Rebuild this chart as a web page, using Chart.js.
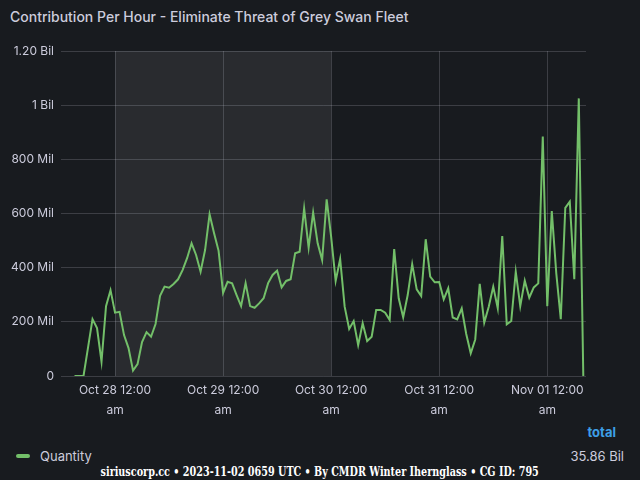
<!DOCTYPE html>
<html>
<head>
<meta charset="utf-8">
<script src="https://cdn.jsdelivr.net/npm/chart.js@4"></script>
<style>
  html, body { margin: 0; padding: 0; background: #181b1f; }
  body { width: 640px; height: 480px; position: relative; overflow: hidden; font-family: Inter, "Noto Sans", sans-serif; color: #ccccdc; }
  #title { position: absolute; left: 10px; top: 8px; font-size: 14px; font-weight: 500; white-space: nowrap; }
  #wrap { position: absolute; left: 0; top: 0; width: 640px; height: 420px; }
  #total { position: absolute; right: 24px; top: 424px; font-size: 13px; font-weight: 700; color: #3d9fe6; }
  #legend { position: absolute; left: 16px; top: 448px; font-size: 13px; }
  #legend .sw { display: inline-block; width: 14px; height: 4px; border-radius: 2px; background: #73bf69; vertical-align: middle; margin-right: 10px; position: relative; top: -1px; }
  #legendVal { position: absolute; right: 16px; top: 448px; font-size: 13px; }
  #footer { position: absolute; left: 0; top: 460px; width: 640px; text-align: center; }
  #footer span { display: inline-block; font-family: "DejaVu Serif", "Liberation Serif", serif; font-weight: 700; font-size: 13px; color: #ffffff; white-space: nowrap; transform-origin: center; }
</style>
</head>
<body>
<div id="title">Contribution Per Hour - Eliminate Threat of Grey Swan Fleet</div>
<div id="wrap"><canvas id="chart"></canvas></div>
<div id="total">total</div>
<div id="legend"><span class="sw"></span>Quantity</div>
<div id="legendVal">35.86 Bil</div>
<div id="footer"><span id="footerText">siriuscorp.cc • 2023-11-02 0659 UTC • By CMDR Winter Ihernglass • CG ID: 795</span></div>
<script>
// hours relative to Oct 28 12:00 am
const hours = [];
for (let h = -9; h <= 104; h++) hours.push(h);

// Quantity per hour, in millions
const quantity = [
  0, 0, 0, 105, 210, 177, 53, 258, 317,
  234, 237, 151, 103, 20, 44, 125, 162, 145, 192, 296, 330,
  326, 340, 357, 391, 435, 490, 447, 385, 465, 597, 527, 462,
  307, 348, 342, 299, 258, 343, 258, 252, 268, 287, 343, 373,
  389, 327, 351, 357, 453, 459, 619, 474, 603, 490, 428, 652,
  514, 351, 432, 256, 174, 203, 114, 195, 129, 145, 244, 244,
  234, 207, 469, 287, 217, 299, 413, 320, 295, 505, 367, 346,
  347, 283, 324, 216, 209, 250, 155, 84, 135, 340, 197, 256,
  330, 250, 517, 191, 203, 385, 258, 352, 289, 327, 342, 884,
  258, 609, 379, 210, 621, 644, 357, 1025, 0
];

const xTicks = [0, 24, 48, 72, 96];
const xTickLabels = [
  ["Oct 28 12:00", "am"],
  ["Oct 29 12:00", "am"],
  ["Oct 30 12:00", "am"],
  ["Oct 31 12:00", "am"],
  ["Nov 01 12:00", "am"]
];
const yTicks = [0, 200, 400, 600, 800, 1000, 1200];
const yTickLabels = ["0", "200 Mil", "400 Mil", "600 Mil", "800 Mil", "1 Bil", "1.20 Bil"];

// weekend time region (hours)
const weekend = [0, 48];

const weekendShade = {
  id: "weekendShade",
  beforeDraw(chart) {
    const { ctx, chartArea, scales } = chart;
    const x0 = scales.x.getPixelForValue(weekend[0]);
    const x1 = scales.x.getPixelForValue(weekend[1]);
    ctx.save();
    ctx.fillStyle = "rgba(255,255,255,0.075)";
    ctx.fillRect(x0, chartArea.top, x1 - x0, chartArea.bottom - chartArea.top);
    ctx.restore();
  }
};

Chart.defaults.font.family = "Inter, 'Noto Sans', sans-serif";
Chart.defaults.color = "#ccccdc";

new Chart(document.getElementById("chart"), {
  type: "line",
  data: {
    datasets: [
      {
        label: "Quantity",
        data: hours.map((h, i) => ({ x: h, y: quantity[i] })),
        borderColor: "#73bf69",
        borderWidth: 2,
        pointRadius: 0,
        tension: 0,
        fill: false,
      },
    ],
  },
  options: {
    responsive: true,
    maintainAspectRatio: false,
    animation: false,
    layout: { padding: { top: 51, right: 54, bottom: 0, left: 0 } },
    plugins: { legend: { display: false }, tooltip: { enabled: false } },
    scales: {
      x: {
        type: "linear",
        min: -12,
        max: 104.6,
        afterBuildTicks: (scale) => { scale.ticks = xTicks.map((v) => ({ value: v })); },
        afterFit: (scale) => { scale.height = 44; },
        ticks: {
          autoSkip: false,
          maxRotation: 0,
          padding: 4,
          font: { size: 12, lineHeight: 1.667 },
          color: "#ccccdc",
          callback: (v) => xTickLabels[xTicks.indexOf(v)],
        },
        grid: { color: "rgba(204,204,220,0.2)", drawTicks: false },
        border: { display: false },
      },
      y: {
        min: 0,
        max: 1200,
        afterBuildTicks: (scale) => { scale.ticks = yTicks.map((v) => ({ value: v })); },
        afterFit: (scale) => { scale.width = 61; },
        ticks: {
          padding: 7,
          font: { size: 12 },
          color: "#ccccdc",
          callback: (v) => yTickLabels[yTicks.indexOf(v)],
        },
        grid: { color: "rgba(204,204,220,0.2)", drawTicks: false },
        border: { display: false },
      },
    },
  },
  plugins: [weekendShade],
});

// fit footer text to its width in the reference
const ft = document.getElementById("footerText");
ft.style.transform = "scaleX(" + (438 / ft.offsetWidth) + ")";
</script>
</body>
</html>
